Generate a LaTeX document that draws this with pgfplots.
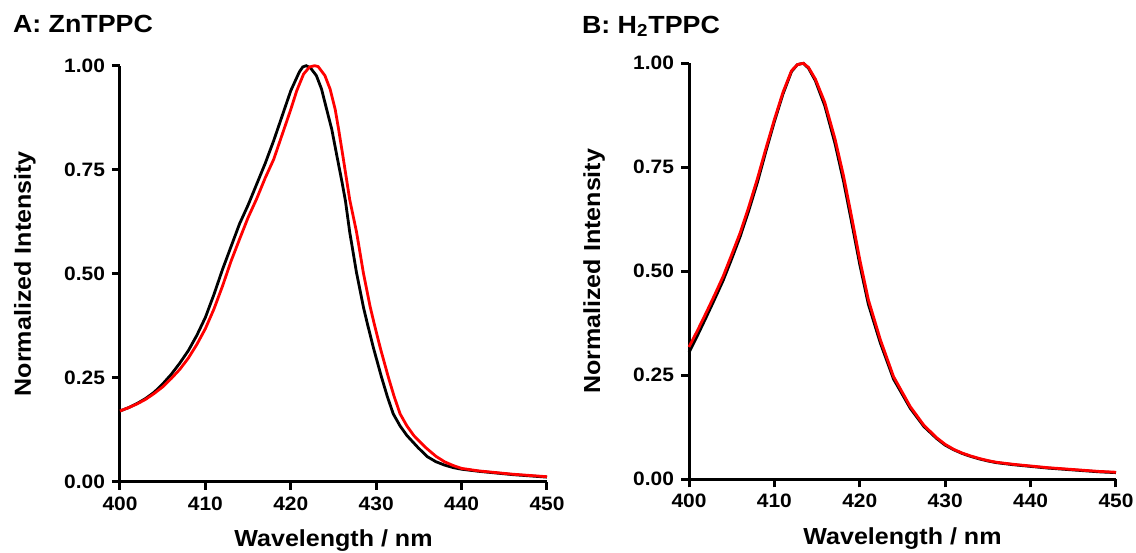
\documentclass[border=0pt]{standalone}
\usepackage{fontspec}
\setmainfont{Liberation Sans}[FakeStretch=1.08]
\usepackage{pgfplots}
\usepackage{pgfplotstable}
\pgfplotsset{compat=1.18}

% panel A: ZnTPPC
\pgfplotstableread{
x y
400 0.170
401 0.178
402 0.188
403 0.200
404 0.215
405 0.235
406 0.258
407 0.285
408 0.315
409 0.352
410 0.395
411 0.450
412 0.510
413 0.565
414 0.620
415 0.665
416 0.715
417 0.765
418 0.820
419 0.880
420 0.940
421 0.985
421.4 0.997
421.8 1.000
422.3 0.995
423.0 0.976
423.6 0.944
424.2 0.895
424.8 0.847
425.4 0.783
426.0 0.720
426.4 0.675
426.9 0.600
427.7 0.502
428.5 0.420
429.0 0.377
429.7 0.320
430.6 0.253
431.3 0.205
432.0 0.163
432.8 0.134
433.6 0.111
434.9 0.082
436 0.060
437 0.048
438 0.040
439 0.034
440 0.030
442 0.025
444 0.021
446 0.017
448 0.014
450 0.011
}\znblack
\pgfplotstableread{
x y
400 0.170
401 0.178
402 0.187
403 0.198
404 0.212
405 0.228
406 0.248
407 0.270
408 0.297
409 0.330
410 0.368
411 0.415
412 0.470
413 0.530
414 0.583
415 0.635
416 0.680
417 0.730
418 0.775
419 0.835
420 0.895
420.7 0.940
421.5 0.980
422.2 0.997
422.8 1.000
423.2 0.998
424.0 0.976
424.6 0.944
425.2 0.895
425.6 0.847
426.1 0.783
426.9 0.678
427.7 0.600
428.5 0.502
429.3 0.420
429.8 0.377
430.5 0.320
431.4 0.253
432.1 0.205
432.8 0.163
433.6 0.134
434.4 0.111
435.8 0.082
437 0.061
438 0.048
439 0.039
440 0.032
442 0.026
444 0.022
446 0.018
448 0.015
450 0.012
}\znred

% panel B: H2TPPC
\pgfplotstableread{
x y
400 0.305
401 0.346
402 0.389
403 0.433
404 0.478
405 0.530
406 0.584
407 0.646
408 0.713
409 0.788
410 0.860
411 0.926
412 0.980
412.7 0.997
413.4 1.000
414 0.988
414.8 0.958
415.9 0.898
417.1 0.807
418.1 0.716
419.1 0.612
420.0 0.516
421.0 0.421
422.4 0.328
423.95 0.241
425.9 0.171
427.5 0.127
429 0.098
430 0.082
431 0.071
432 0.062
433 0.055
434 0.049
435 0.044
436 0.040
438 0.035
440 0.031
442 0.027
444 0.024
446 0.021
448 0.018
450 0.016
}\hblack
\pgfplotstableread{
x y
400 0.318
401 0.358
402 0.400
403 0.443
404 0.488
405 0.540
406 0.593
407 0.655
408 0.722
409 0.795
410 0.865
411 0.930
412 0.982
412.7 0.997
413.4 1.000
414 0.990
414.8 0.962
415.9 0.906
417.1 0.818
418.1 0.729
419.1 0.625
420.0 0.528
421.0 0.432
422.4 0.336
423.95 0.247
425.9 0.175
427.5 0.130
429 0.100
430 0.084
431 0.072
432 0.063
433 0.056
434 0.050
435 0.045
436 0.041
438 0.036
440 0.032
442 0.028
444 0.025
446 0.022
448 0.019
450 0.017
}\hred

\pgfplotsset{
  spec/.style={
    scale only axis, width=213.5pt, height=208pt,
    xmin=400, xmax=450, ymin=0, ymax=1,
    axis x line=bottom, axis y line=left,
    axis line style={-, line width=1.5pt},
    tick align=outside, major tick length=4pt,
    tick style={line width=1.5pt, black},
    xtick={400,410,...,450}, ytick={0,0.25,0.5,0.75,1},
    yticklabel style={/pgf/number format/.cd, fixed, fixed zerofill, precision=2},
    /pgf/number format/assume math mode=true,
    tick label style={font=\bfseries\fontsize{9.7}{11}\selectfont},
    xlabel={Wavelength / nm}, ylabel={Normalized Intensity},
    every axis x label/.style={at={([yshift=-32.5pt]axis description cs:0.5,0)}, anchor=base,
      font=\bfseries\fontsize{11.6}{13}\selectfont},
    every axis y label/.style={at={([xshift=-44.5pt]axis description cs:0,0.5)}, rotate=90, anchor=base,
      font=\bfseries\fontsize{11.6}{13}\selectfont},
    clip=false,
  },
  spec line/.style={line width=1.4pt, no markers},
}

\begin{document}
\begin{tikzpicture}
\useasboundingbox (0,0) rectangle (568pt,-276pt);

\begin{axis}[spec, at={(60pt,-240.85pt)}, anchor=south west]
\addplot[spec line, black] table[x=x, y=y] {\znblack};
\addplot[spec line, red] table[x=x, y=y] {\znred};
\end{axis}
\node[anchor=base west, font=\bfseries\fontsize{12.4}{14}\selectfont, inner sep=0pt] at (6.3pt,-16.4pt) {A: ZnTPPC};

\begin{axis}[spec, at={(344.5pt,-239.65pt)}, anchor=south west]
\addplot[spec line, black] table[x=x, y=y] {\hblack};
\addplot[spec line, red] table[x=x, y=y] {\hred};
\end{axis}
\node[anchor=base west, font=\bfseries\fontsize{12.4}{14}\selectfont, inner sep=0pt] at (290.8pt,-16.5pt) {B: H\textsubscript{2}TPPC};
\end{tikzpicture}
\end{document}
